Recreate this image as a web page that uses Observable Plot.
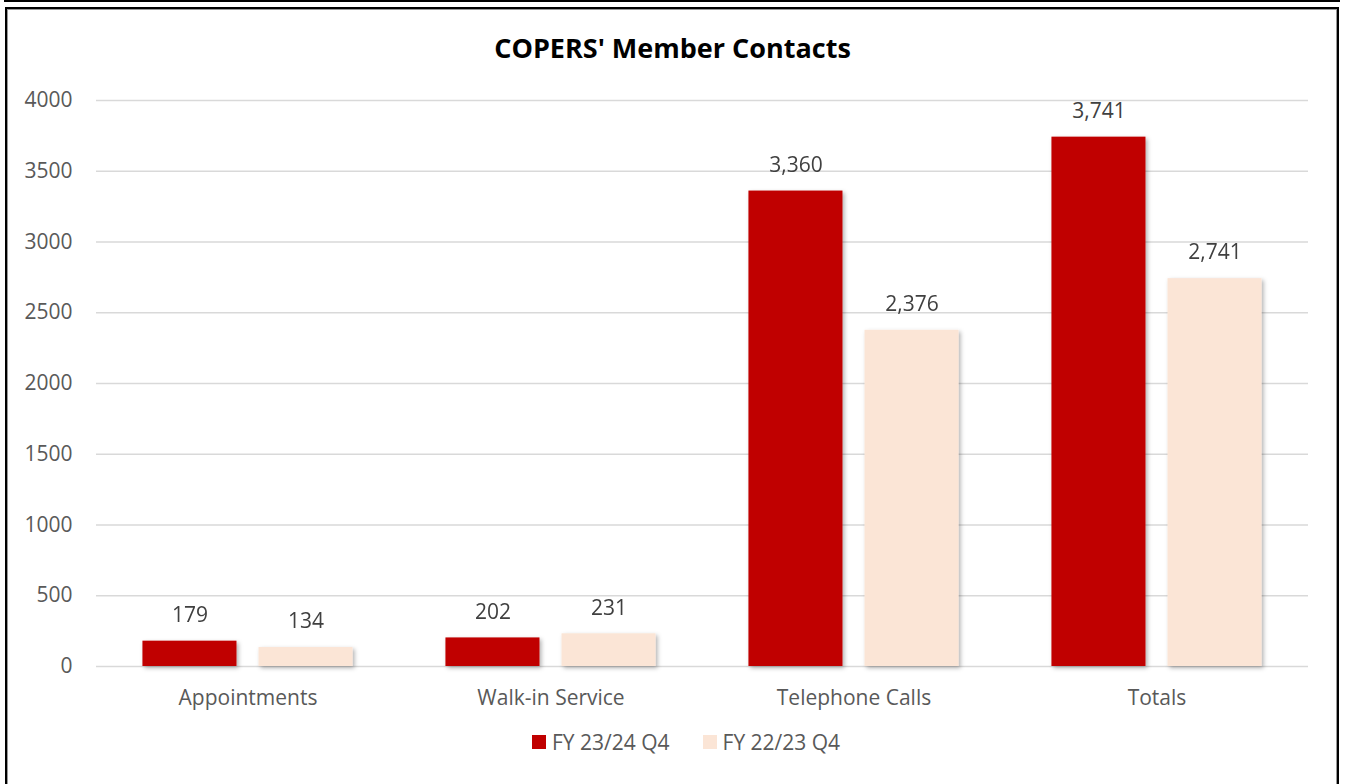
<!DOCTYPE html>
<html>
<head>
<meta charset="utf-8">
<script src="https://cdn.jsdelivr.net/npm/d3@7"></script>
<script src="https://cdn.jsdelivr.net/npm/@observablehq/plot@0.6"></script>
<style>
  html, body { margin: 0; padding: 0; background: #fff; width: 1345px; height: 784px; overflow: hidden; }
  body { position: relative; font-family: "Open Sans", sans-serif; color: #595959; }
  #topbox { position: absolute; left: 4px; top: -20px; width: 1332px; height: 20px; border: 2px solid #000; border-top: none; }
  #frame { position: absolute; left: 5px; top: 7px; width: 1330px; height: 790px; border: 2px solid #000; box-shadow: inset 0 0 0 1px #999; }
  #title { position: absolute; left: 0; top: 32px; width: 1345px; text-align: center; font-weight: bold; font-size: 27px; color: #000; line-height: 32px; }
  #chart { position: absolute; left: 0; top: 0; }
  #legend { position: absolute; left: 532px; top: 730px; display: flex; align-items: center; font-size: 21px; color: #595959; line-height: 24px; }
  .item { display: flex; align-items: center; margin-right: 33px; }
  .sw { width: 14px; height: 14px; margin-right: 6px; }
</style>
</head>
<body>
<div id="topbox"></div>
<div id="frame"></div>
<div id="chart"></div>
<div id="title">COPERS' Member Contacts</div>
<div id="legend"></div>
<script>
const categories = ["Appointments", "Walk-in Service", "Telephone Calls", "Totals"];
const series = ["FY 23/24 Q4", "FY 22/23 Q4"];
const fy2324 = [179, 202, 3360, 3741];
const fy2223 = [134, 231, 2376, 2741];
const colors = ["#C00000", "#FBE5D6"];
const yTicks = [0, 500, 1000, 1500, 2000, 2500, 3000, 3500, 4000];

const data = [];
categories.forEach((c, i) => {
  data.push({category: c, series: series[0], value: fy2324[i]});
  data.push({category: c, series: series[1], value: fy2223[i]});
});

const font = '"Open Sans", sans-serif';

const chart = Plot.plot({
  width: 1345,
  height: 720,
  marginLeft: 95,
  marginRight: 37,
  marginTop: 100,
  marginBottom: 54,
  style: {fontFamily: font, fontSize: "21px", color: "#595959", background: "transparent", overflow: "visible"},
  fx: {domain: categories, padding: 0, label: null},
  x: {domain: series, paddingInner: 0.19, paddingOuter: 0.40, axis: null, round: false},
  y: {domain: [0, 4000], label: null},
  color: {domain: series, range: colors},
  marks: [
    Plot.gridY(yTicks, {stroke: "#d9d9d9", strokeOpacity: 1, strokeWidth: 1.6}),
    Plot.axisY({ticks: yTicks, tickSize: 0, tickPadding: 24, tickFormat: "d", label: null, fontSize: 21, fill: "#595959"}),
    Plot.axisFx({anchor: "bottom", tickSize: 0, tickPadding: 24, label: null, fontSize: 21, fill: "#595959"}),
    Plot.barY(data, {fx: "category", x: "series", y: "value", fill: "series"}),
    Plot.text(data, {fx: "category", x: "series", y: "value", text: d => d3.format(",")(d.value), dy: -26, fontSize: 21, fill: "#404040"})
  ]
});
document.getElementById("chart").appendChild(chart);

// drop shadow for bars
const ns = "http://www.w3.org/2000/svg";
const defs = document.createElementNS(ns, "defs");
defs.innerHTML = '<filter id="sh" x="-20%" y="-20%" width="140%" height="140%"><feDropShadow dx="2" dy="2" stdDeviation="2" flood-color="#000" flood-opacity="0.3"/></filter>';
chart.insertBefore(defs, chart.firstChild);
chart.querySelectorAll('g[aria-label="bar"]').forEach(g => g.setAttribute("filter", "url(#sh)"));

const legend = document.getElementById("legend");
series.forEach((s, i) => {
  const item = document.createElement("div");
  item.className = "item";
  item.innerHTML = `<div class="sw" style="background:${colors[i]}"></div><span>${s}</span>`;
  legend.appendChild(item);
});
</script>
</body>
</html>
